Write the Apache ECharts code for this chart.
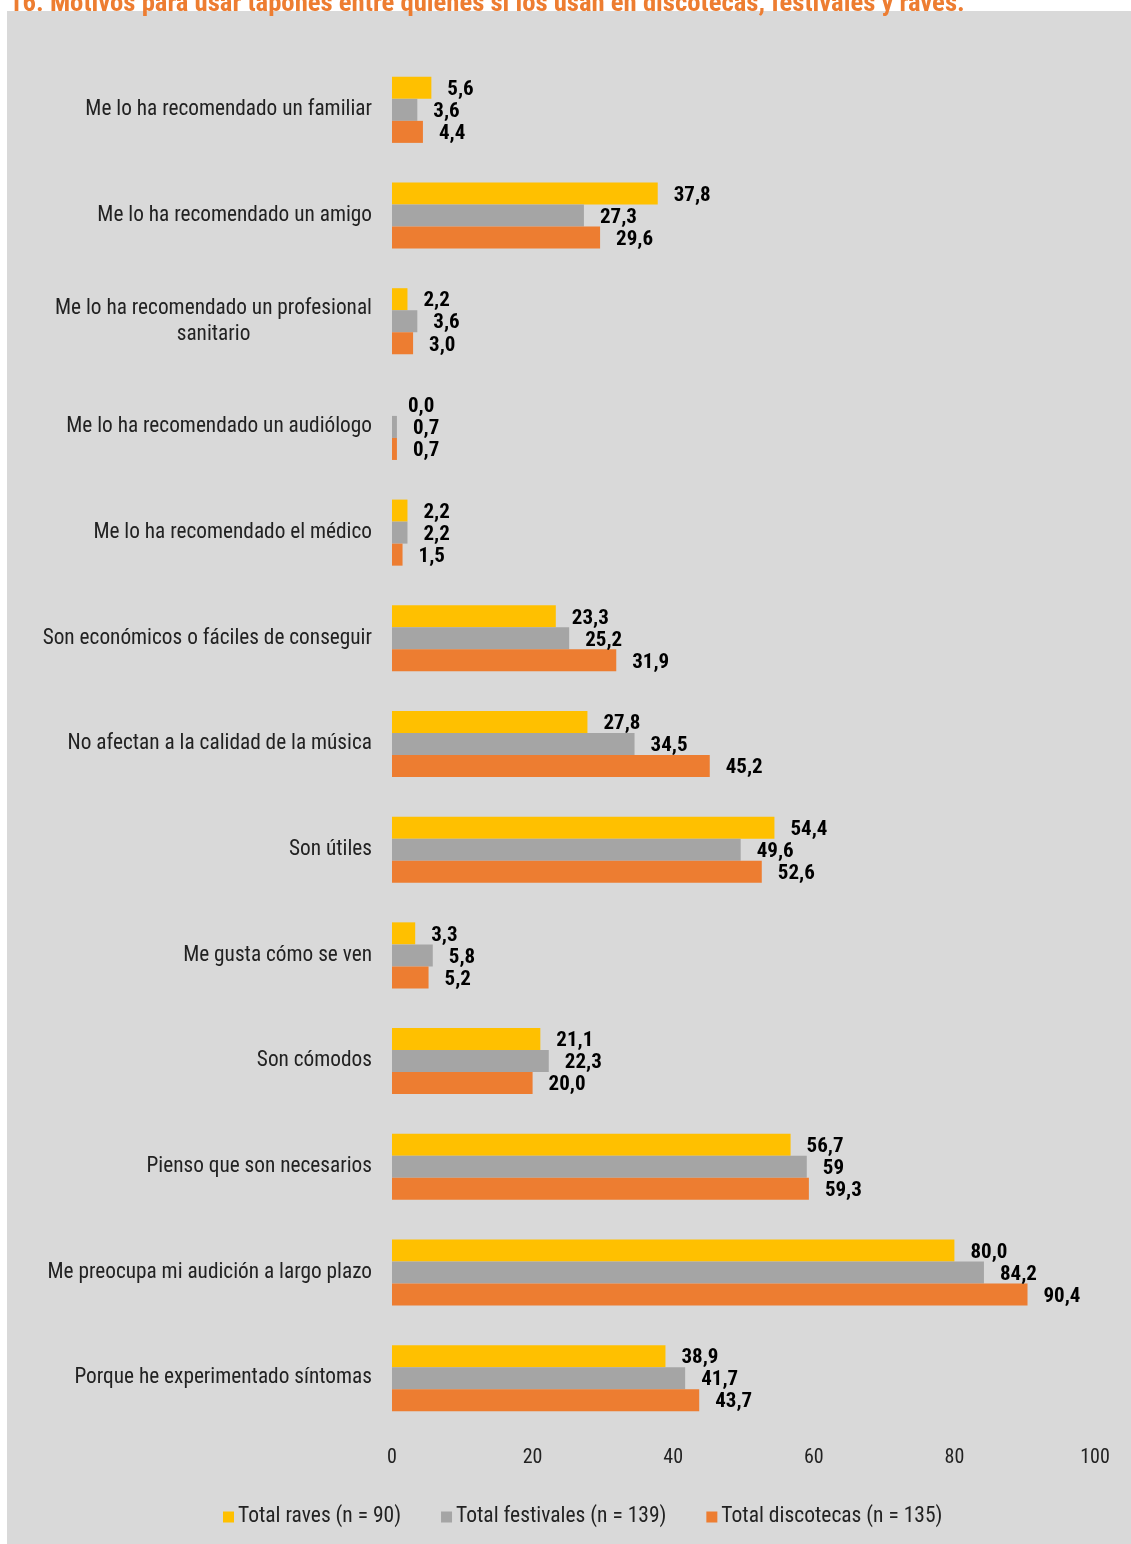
<!DOCTYPE html>
<html>
<head>
<meta charset="utf-8">
<script src="https://cdn.jsdelivr.net/npm/echarts@6/dist/echarts.min.js"></script>
<style>
  html, body { margin: 0; padding: 0; background: #ffffff; }
  #chart { width: 1131px; height: 1544px; }
</style>
</head>
<body>
<div id="chart"></div>
<script>
const FONT = '"Roboto Condensed", "Liberation Sans Narrow", "Arial Narrow", Roboto, sans-serif';

const titleText = '16. Motivos para usar tapones entre quienes si los usan en discotecas, festivales y raves.';

const categories = [
  'Me lo ha recomendado un familiar',
  'Me lo ha recomendado un amigo',
  'Me lo ha recomendado un profesional\nsanitario',
  'Me lo ha recomendado un audiólogo',
  'Me lo ha recomendado el médico',
  'Son económicos o fáciles de conseguir',
  'No afectan a la calidad de la música',
  'Son útiles',
  'Me gusta cómo se ven',
  'Son cómodos',
  'Pienso que son necesarios',
  'Me preocupa mi audición a largo plazo',
  'Porque he experimentado síntomas'
];

// Percentages as published (string keeps the printed precision)
const raves = ['5.6', '37.8', '2.2', '0.0', '2.2', '23.3', '27.8', '54.4', '3.3', '21.1', '56.7', '80.0', '38.9'];
const festivales = ['3.6', '27.3', '3.6', '0.7', '2.2', '25.2', '34.5', '49.6', '5.8', '22.3', '59', '84.2', '41.7'];
const discotecas = ['4.4', '29.6', '3.0', '0.7', '1.5', '31.9', '45.2', '52.6', '5.2', '20.0', '59.3', '90.4', '43.7'];

const seriesNames = ['Total raves (n = 90)', 'Total festivales (n = 139)', 'Total discotecas (n = 135)'];
const seriesColors = ['#FFC000', '#A5A5A5', '#ED7D31'];
const xTicks = [0, 20, 40, 60, 80, 100];

const chart = echarts.init(document.getElementById('chart'), null, { renderer: 'canvas' });

function makeSeries(name, color, values) {
  return {
    name: name,
    type: 'bar',
    barGap: '0%',
    barCategoryGap: '37.5%',
    itemStyle: { color: color },
    data: values.map(v => ({ value: parseFloat(v), label: { formatter: v.replace('.', ',') } })),
    label: {
      show: true,
      position: 'right',
      distance: 16,
      offset: [0, 2],
      color: '#000',
      fontFamily: FONT,
      fontWeight: 'bold',
      fontSize: 21
    }
  };
}

const option = {
  backgroundColor: '#ffffff',
  animation: false,
  graphic: [
    {
      type: 'rect',
      z: -10,
      shape: { x: 7, y: 11, width: 1124, height: 1533 },
      style: { fill: '#D9D9D9' }
    },
    {
      type: 'text',
      z: -5,
      x: 9,
      y: 18,
      style: {
        text: titleText,
        fill: '#ED7D31',
        font: 'bold 26.7px ' + FONT,
        verticalAlign: 'bottom'
      }
    }
  ],
  legend: {
    bottom: 11,
    left: 218,
    itemWidth: 11,
    itemHeight: 11,
    itemGap: 40,
    icon: 'rect',
    textStyle: { fontFamily: FONT, fontSize: 21.5, color: '#222', padding: [0, 0, 0, -1] },
    data: seriesNames
  },
  grid: { left: 392, right: 36, top: 57, bottom: 113, containLabel: false },
  xAxis: {
    type: 'value',
    min: xTicks[0],
    max: xTicks[xTicks.length - 1],
    interval: 20,
    axisLine: { show: false },
    axisTick: { show: false },
    splitLine: { show: false },
    axisLabel: { margin: 17, fontFamily: FONT, fontSize: 20, color: '#222' }
  },
  yAxis: {
    type: 'category',
    inverse: true,
    data: categories,
    axisLine: { show: false },
    axisTick: { show: false },
    axisLabel: {
      margin: 20,
      fontFamily: FONT,
      fontSize: 21.3,
      color: '#222',
      lineHeight: 26,
      formatter: function (v) {
        if (v.indexOf('\n') < 0) return v;
        return v.split('\n').map(s => '{c|' + s + '}').join('\n');
      },
      rich: {
        c: { align: 'center', fontFamily: FONT, fontSize: 21.3, color: '#222', lineHeight: 26 }
      }
    }
  },
  series: [
    makeSeries(seriesNames[0], seriesColors[0], raves),
    makeSeries(seriesNames[1], seriesColors[1], festivales),
    makeSeries(seriesNames[2], seriesColors[2], discotecas)
  ]
};

chart.setOption(option);
</script>
</body>
</html>
